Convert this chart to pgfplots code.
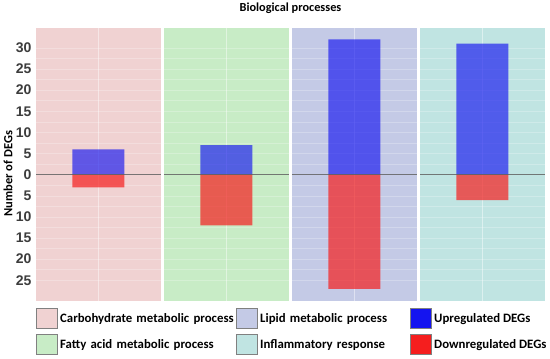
\documentclass[border=0pt]{standalone}
\usepackage{fontspec}
\setmainfont{Carlito}
\newfontfamily\tickfont{Liberation Sans}
\usepackage{pgfplots}
\pgfplotsset{compat=1.18}
\definecolor{pinkbg}{RGB}{240,210,210}
\definecolor{greenbg}{RGB}{200,236,198}
\definecolor{lavbg}{RGB}{196,202,230}
\definecolor{tealbg}{RGB}{192,228,226}
\definecolor{upc}{RGB}{20,20,240}
\definecolor{downc}{RGB}{245,30,30}
\definecolor{tickgray}{RGB}{60,60,60}
\pgfplotstableread{
x up down
0.488 6 -3
1.488 7 -12
2.488 32 -27
3.488 31 -6
}\degs
\begin{document}
\begin{tikzpicture}[x=1pt,y=1pt]
\path (0,0) rectangle (550,355);
\begin{axis}[
  set layers=standard,
  at={(36pt,58pt)}, anchor=south west,
  scale only axis, width=509pt, height=273pt,
  xmin=0, xmax=3.977, ymin=-29.8, ymax=34.8,
  axis line style={draw=none},
  xtick={0.488,1.488,2.488,3.488}, xticklabels={},
  ytick={-25,-20,...,30},
  yticklabels={25,20,15,10,5,0,5,10,15,20,25,30},
  minor y tick num=1,
  major tick length=0pt, minor tick length=0pt,
  yticklabel style={font=\fontsize{14}{14}\tickfont\bfseries, text=tickgray, xshift=-1pt},
  xmajorgrids, ymajorgrids, yminorgrids,
  x grid style={white, opacity=0.45, line width=0.8pt},
  y grid style={white, opacity=0.25, line width=0.5pt},
  minor y grid style={white, opacity=0.25, line width=0.5pt},
  title={Biological processes},
  title style={font=\fontsize{12.3}{12}\selectfont\bfseries, yshift=4pt},
  ylabel={Number of DEGs},
  ylabel style={font=\fontsize{12.5}{12}\selectfont\bfseries, at={(axis description cs:-0.055,0.465)}, anchor=center},
  legend columns=3,
  legend cell align=left,
  legend style={at={(axis description cs:0,-0.028)}, anchor=north west, draw=none, fill=none,
    column sep=0pt, row sep=5pt, inner sep=0pt,
    font=\fontsize{12.8}{12}\selectfont\bfseries},
  legend image code/.code={\draw[#1] (0pt,-10pt) rectangle (21pt,10pt);},
]
\begin{pgfonlayer}{axis background}
\fill[pinkbg] (axis cs:0,-29.8) rectangle (axis cs:0.977,34.8);
\fill[greenbg] (axis cs:1,-29.8) rectangle (axis cs:1.977,34.8);
\fill[lavbg] (axis cs:2,-29.8) rectangle (axis cs:2.977,34.8);
\fill[tealbg] (axis cs:3,-29.8) rectangle (axis cs:3.977,34.8);
\end{pgfonlayer}
\addplot[ybar, bar width=0.406, bar shift=0pt, fill=upc, fill opacity=0.65, draw=none, forget plot] table[x=x, y=up] {\degs};
\addplot[ybar, bar width=0.406, bar shift=0pt, fill=downc, fill opacity=0.7, draw=none, forget plot] table[x=x, y=down] {\degs};
\draw[black!65, line width=1.2pt, opacity=0.8] (axis cs:0,0) -- (axis cs:0.977,0);
\draw[black!65, line width=1.2pt, opacity=0.8] (axis cs:1,0) -- (axis cs:1.977,0);
\draw[black!65, line width=1.2pt, opacity=0.8] (axis cs:2,0) -- (axis cs:2.977,0);
\draw[black!65, line width=1.2pt, opacity=0.8] (axis cs:3,0) -- (axis cs:3.977,0);
\addlegendimage{fill=pinkbg, draw=gray, line width=1pt}
\addlegendentry[text width=174pt]{Carbohydrate metabolic process}
\addlegendimage{fill=lavbg, draw=gray, line width=1pt}
\addlegendentry[text width=148pt]{Lipid metabolic process}
\addlegendimage{fill=upc, draw=gray, line width=1pt}
\addlegendentry{Upregulated DEGs}
\addlegendimage{fill=greenbg, draw=gray, line width=1pt}
\addlegendentry[text width=174pt]{Fatty acid metabolic process}
\addlegendimage{fill=tealbg, draw=gray, line width=1pt}
\addlegendentry[text width=148pt]{Inflammatory response}
\addlegendimage{fill=downc, draw=gray, line width=1pt}
\addlegendentry{Downregulated DEGs}
\end{axis}
\end{tikzpicture}
\end{document}
